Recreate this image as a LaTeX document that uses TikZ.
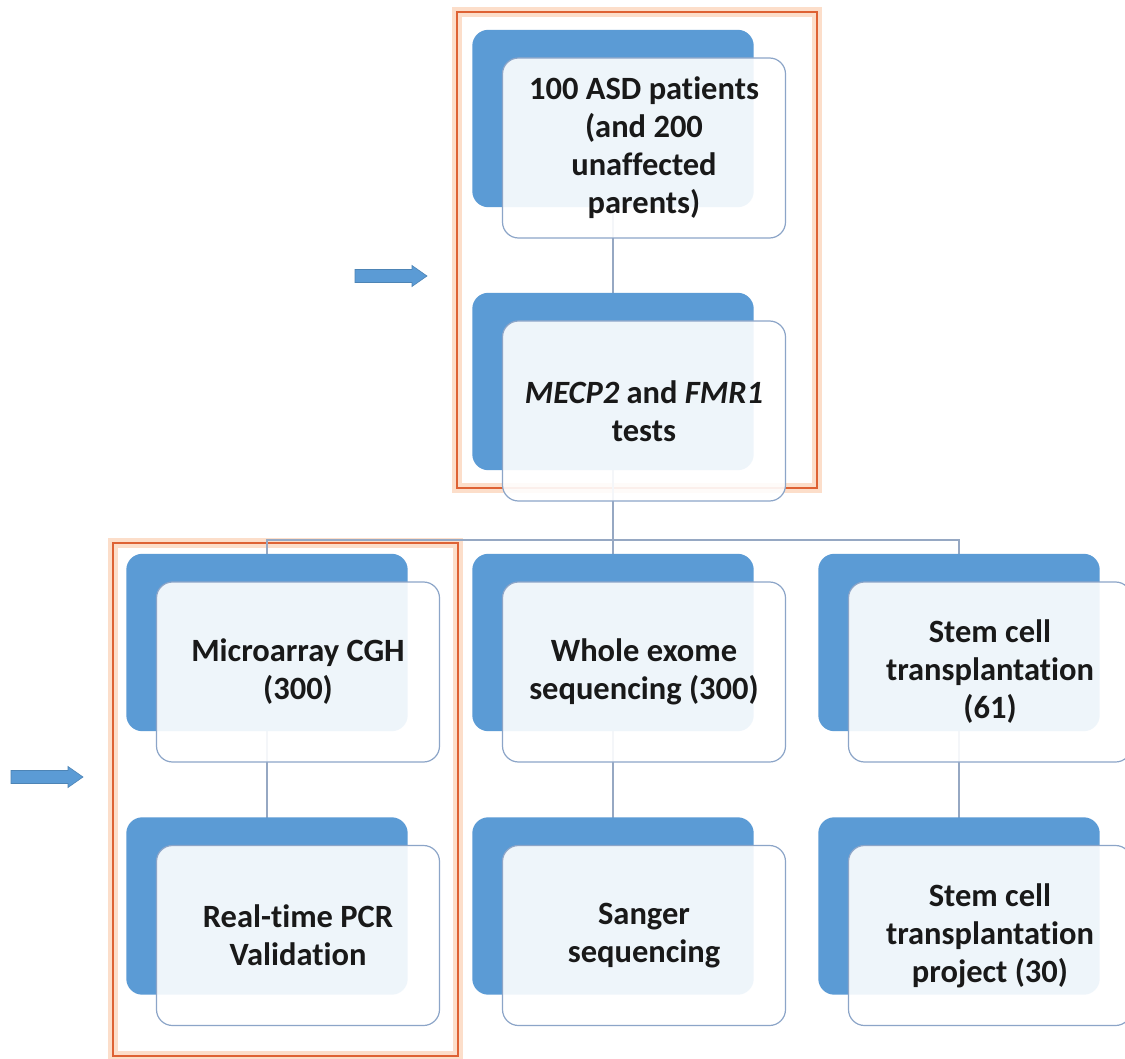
\documentclass[tikz,border=0pt]{standalone}
\usepackage{fontspec}
\setmainfont{Carlito}[Ligatures=NoCommon]
\usetikzlibrary{positioning}
\definecolor{offblue}{RGB}{91,155,213}
\definecolor{cardline}{RGB}{140,165,200}
\definecolor{linkline}{RGB}{150,168,195}
\definecolor{hiliteline}{RGB}{222,98,52}
\definecolor{hiliteglow}{RGB}{250,195,160}

\begin{document}
\begin{tikzpicture}[x=1pt,y=-1pt, font=\fontsize{32.5}{38}\selectfont\bfseries]
    \tikzset{back/.style={rectangle, minimum width=281pt, minimum height=177pt, inner sep=0pt}}
    \tikzset{card/.style={rectangle, rounded corners=16pt, fill=white, fill opacity=0.9, text opacity=1, draw=cardline, line width=1.2pt, minimum width=283pt, minimum height=180pt, align=center, text=black!90}}
    \tikzset{link/.style={draw=linkline, line width=1.5pt}}
    \tikzset{hilite/.style={draw=hiliteline, line width=2.5pt}}
    \tikzset{glow/.style={draw=hiliteglow, line width=10pt, opacity=0.55}}
    \tikzset{pointer/.style={fill=offblue, draw=offblue!85!black, line width=0.6pt, line join=miter}}

    \useasboundingbox (0,0) rectangle (1125,1059);
    \fill[white] (0,0) rectangle (1125,1059);

    % highlight frames
    \draw[glow] (457,12) rectangle (817,488);
    \draw[glow] (113,543) rectangle (458,1056);
    \draw[hilite] (457,12) rectangle (817,488);
    \draw[hilite] (113,543) rectangle (458,1056);

    % back shapes
    \node[back] (b1) at (613,118.5) {};
    \node[back] (b2) at (613,381.5) {};
    \node[back] (m1) at (267,642.5) {};
    \node[back] (m2) at (613,642.5) {};
    \node[back] (m3) at (959,642.5) {};
    \node[back] (n1) at (267,906) {};
    \node[back] (n2) at (613,906) {};
    \node[back] (n3) at (959,906) {};
    \coordinate (bus) at (0,540);

    % connectors
    \path[link] (b1.center) -- (b2.center);
    \path[link] (b2.center) -- (b2.center |- bus) -| (m1.center);
    \path[link] (b2.center |- bus) -- (m2.center);
    \path[link] (b2.center |- bus) -| (m3.center);
    \path[link] (m1.center) -- (n1.center);
    \path[link] (m2.center) -- (n2.center);
    \path[link] (m3.center) -- (n3.center);

    % fill back shapes over the connectors
    \foreach \b in {b1,b2,m1,m2,m3,n1,n2,n3}
        \fill[offblue, rounded corners=16pt] (\b.north west) rectangle (\b.south east);

    % front cards
    \node[card] (c1) at ([shift={(31,29.5)}]b1.center) {100 ASD patients\\(and 200\\unaffected\\parents)};
    \node[card] (c2) at ([shift={(31,29.5)}]b2.center) {\textit{MECP2} and \textit{FMR1}\\tests};
    \node[card] (d1) at ([shift={(31,29.5)}]m1.center) {Microarray CGH\\(300)};
    \node[card] (d2) at ([shift={(31,29.5)}]m2.center) {Whole exome\\sequencing (300)};
    \node[card] (d3) at ([shift={(31,29.5)}]m3.center) {Stem cell\\transplantation\\(61)};
    \node[card] (e1) at ([shift={(31,29.5)}]n1.center) {Real-time PCR\\Validation};
    \node[card] (e2) at ([shift={(31,29.5)}]n2.center) {Sanger\\sequencing};
    \node[card] (e3) at ([shift={(31,29.5)}]n3.center) {Stem cell\\transplantation\\project (30)};

    % pointers
    \foreach \px/\py in {355/276, 11/777}
        \draw[pointer] (\px,\py-6.5) -- ++(57,0) -- ++(0,-4) -- ++(15,10.5) -- ++(-15,10.5) -- ++(0,-4) -- ++(-57,0) -- cycle;
\end{tikzpicture}
\end{document}
